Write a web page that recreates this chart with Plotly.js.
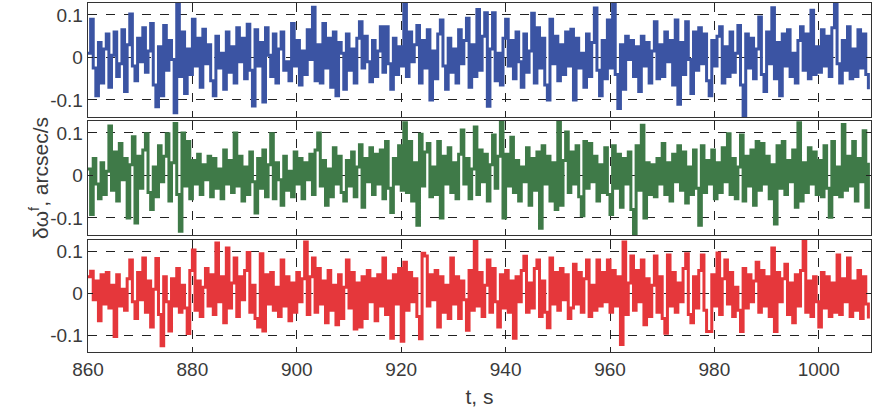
<!DOCTYPE html>
<html>
<head>
<meta charset="utf-8">
<script src="https://cdn.plot.ly/plotly-3.0.1.min.js"></script>
<style>html,body{margin:0;padding:0;background:#fff;}#chart{width:878px;height:414px;}</style>
</head>
<body>
<div id="chart"></div>
<script>
// Time sampling (seconds)
const tStart = 860;
const tStep = 0.5;

// Series values, in thousandths of arcsec/s
const blueMilli = [
 10,90,-25,-90,35,-60,20,55,-70,5,60,-45,-15,65,-80,30,102,-20,-55,45,
 -10,70,-35,15,80,-65,-116,25,-90,75,-30,40,-5,-130,128,-45,60,-85,20,-40,
 90,-20,45,-70,66,-15,30,-55,-90,50,-25,10,-75,60,-35,25,-60,70,-10,45,
 -50,78,-30,-114,65,-20,35,-105,70,5,-45,55,-60,20,60,-30,-10,-55,80,-20,
 40,-65,15,-40,65,-5,118,-55,30,-60,80,-25,45,-70,60,-90,35,10,-75,55,
 -30,20,-60,45,84,-25,50,-10,-57,40,-45,15,72,-35,72,-15,-75,45,-40,25,
 -20,125,-45,60,-10,30,75,-60,40,-25,65,-100,15,-50,55,88,-20,-75,45,-35,
 20,-60,65,-15,40,92,-70,30,-45,113,-30,50,105,-115,20,105,-55,10,-65,45,
 90,-20,40,-50,60,-10,-70,55,-35,15,104,-60,70,-25,45,-65,-100,90,-15,50,
 -55,30,-40,60,-20,66,-100,45,-25,10,-70,55,-45,35,116,-30,-90,40,-50,88,
 -25,128,-40,-120,30,-75,50,-5,40,-45,25,-80,50,-20,35,-60,15,84,-50,30,
 -45,60,-10,40,-65,88,-110,35,-40,84,-5,-85,60,-30,70,-15,55,-55,-90,40,
 -20,50,72,-60,25,-45,60,-35,10,75,-65,-140,55,-25,45,-50,20,95,-40,-80,
 60,-15,117,-50,35,-90,55,-20,65,-45,10,-60,40,72,-30,55,-50,111,-40,25,
 -35,65,-20,50,-45,70,127,-15,-60,40,-30,72,-50,20,-45,65,-25,55,-40,-75
];
const greenMilli = [
 15,-92,40,-20,-55,30,-45,10,116,-35,55,-60,75,-10,40,-100,25,91,-112,45,
 -30,60,98,-40,-80,20,-50,70,-15,45,98,-60,30,122,-45,-131,100,-25,80,-55,
 35,-20,50,-45,25,-10,45,-50,40,-30,15,-55,60,-20,35,-40,100,-25,45,-60,
 20,-45,55,-15,-88,40,-30,60,-50,25,98,-55,30,-10,-70,45,-35,10,-50,55,
 -20,40,-55,30,-10,50,-45,60,100,-25,35,-70,15,-50,65,-20,45,-40,-60,35,
 -25,55,-50,20,72,-75,40,-15,65,-45,50,-20,60,-55,80,-30,-87,40,-20,70,
 -35,124,-40,80,-60,30,-117,97,-25,55,75,-50,20,-45,80,-100,45,-20,65,-40,
 30,-55,50,107,-20,40,-55,15,114,-45,60,-15,50,-60,25,95,-30,45,128,-100,
 50,-25,90,-40,35,-60,20,-15,65,-70,40,-35,55,-124,70,-20,45,-60,30,-80,
 128,-70,35,102,-40,55,-20,70,-50,-95,80,-30,75,-15,45,-60,25,-40,65,-45,
 -92,70,-30,50,-75,40,-20,55,-80,-140,70,-35,118,-100,30,-45,25,-50,40,-20,
 75,-45,30,-60,50,-15,70,-35,55,-65,20,-45,60,-30,-117,70,-40,35,-20,60,
 -55,30,-40,65,-15,98,-45,40,-55,20,95,-60,45,-25,60,-70,80,-35,75,-20,
 45,-55,25,-114,70,-30,80,-45,35,-15,60,-75,124,-60,30,-40,65,-20,55,-45,
 35,-50,70,-30,-98,80,-45,20,-50,120,-35,45,-25,80,-60,40,-15,105,-75,30
];
const redMilli = [
 40,53,-15,30,-65,45,-25,50,-35,20,-103,45,-30,10,-40,35,80,-20,-60,50,
 -15,85,-45,30,-80,10,84,-50,-125,40,-20,-90,35,-30,60,-45,20,-35,-96,55,
 104,-40,30,-55,15,60,-30,45,-50,121,-20,40,-70,109,-35,25,85,-55,40,-15,
 55,98,-45,20,-60,-80,95,-90,45,-25,50,-40,15,-55,80,-30,40,-65,25,-45,
 50,-20,35,123,-50,40,85,-45,60,-25,30,-70,55,-40,20,-75,45,-60,15,80,
 -35,50,-85,25,-80,40,-60,55,-20,35,-65,45,-30,85,-50,30,-107,45,-25,60,
 -114,75,-40,50,-20,35,-55,-108,96,90,-30,45,-15,55,-80,40,-45,20,-60,85,
 -25,40,-60,30,-15,-88,55,-40,125,-30,50,-55,20,80,-45,60,-20,-80,45,-35,
 55,-45,30,-107,40,-20,55,89,-45,25,-35,60,80,-55,30,-45,-82,85,-25,50,
 -40,60,-15,45,-60,-35,70,-25,50,-45,35,80,-55,20,-40,80,-30,50,-20,80,
 -45,55,-30,40,-122,123,-50,25,90,-40,55,-20,80,-75,35,-55,20,90,-45,40,
 -60,-95,92,-30,50,-45,25,-20,60,95,-50,-70,40,-35,55,92,-40,-91,-91,45,
 -30,97,-50,35,80,-25,50,-55,15,-40,-91,60,-35,45,-20,30,75,-45,55,-30,
 40,-55,109,-91,50,-20,35,70,-50,25,-70,45,-30,55,125,-45,30,-55,40,-20,
 -80,50,-35,40,-55,25,-45,92,-50,35,-20,85,-55,30,-40,55,-60,40,-25,-60
];

// Axis ticks
const xTicks = [860, 880, 900, 920, 940, 960, 980, 1000];
const yTickVals = [-0.1, 0, 0.1];
const yTickText = ['-0.1', '0', '0.1'];

const toVal = a => a.map(v => v / 1000);
const times = a => a.map((_, i) => tStart + tStep * i);

const colors = ['#3B54A3', '#3F7A48', '#E5373B'];
const series = [blueMilli, greenMilli, redMilli];

const traces = series.map((s, k) => ({
  x: times(s),
  y: toVal(s),
  type: 'scatter',
  mode: 'lines',
  line: {color: colors[k], width: 3, shape: 'hv'},
  xaxis: k === 0 ? 'x' : 'x' + (k + 1),
  yaxis: k === 0 ? 'y' : 'y' + (k + 1),
  hoverinfo: 'skip'
}));

const H = 414, W = 878;
const xDom = [88 / W, 871 / W];
const panels = [[3, 117], [121, 235], [240, 352]];
const font = {family: 'Liberation Sans, Arial, sans-serif', size: 19, color: '#3a3a3a'};

function xAx(show, anchor) {
  return {
    domain: xDom, range: [860, 1010], anchor: anchor,
    tickmode: 'array', tickvals: xTicks, ticktext: xTicks.map(String),
    showticklabels: show, ticks: 'inside', ticklen: 5, tickcolor: '#222',
    showgrid: true, gridcolor: '#222', griddash: 'dash', gridwidth: 1,
    showline: true, linecolor: '#333', linewidth: 1.3, mirror: 'ticks',
    zeroline: false, tickfont: font
  };
}
function yAx(k, anchor) {
  const p = panels[k];
  return {
    domain: [1 - p[1] / H, 1 - p[0] / H], range: [-0.14, 0.128], anchor: anchor,
    tickmode: 'array', tickvals: yTickVals, ticktext: yTickText,
    ticks: 'inside', ticklen: 5, tickcolor: '#222',
    showgrid: true, gridcolor: '#222', griddash: 'dash', gridwidth: 1,
    showline: true, linecolor: '#333', linewidth: 1.3, mirror: 'ticks',
    zeroline: false, tickfont: font
  };
}

const layout = {
  width: W, height: H,
  margin: {l: 0, r: 0, t: 0, b: 0},
  paper_bgcolor: '#fff', plot_bgcolor: '#fff',
  showlegend: false,
  xaxis: xAx(false, 'y'),
  yaxis: yAx(0, 'x'),
  xaxis2: xAx(false, 'y2'),
  yaxis2: yAx(1, 'x2'),
  xaxis3: Object.assign(xAx(true, 'y3'), {title: {text: 't, s', font: {family: 'Liberation Sans, Arial, sans-serif', size: 21, color: '#3a3a3a'}, standoff: 10}}),
  yaxis3: yAx(2, 'x3'),
  annotations: [{
    text: 'δω<sup>f</sup>, arcsec/s',
    xref: 'paper', yref: 'paper', x: 24 / W, y: 1 - 178 / H,
    showarrow: false, textangle: -90,
    font: {family: 'Liberation Sans, Arial, sans-serif', size: 21, color: '#3a3a3a'}
  }]
};

Plotly.newPlot('chart', traces, layout, {staticPlot: true, displayModeBar: false});
</script>
</body>
</html>
